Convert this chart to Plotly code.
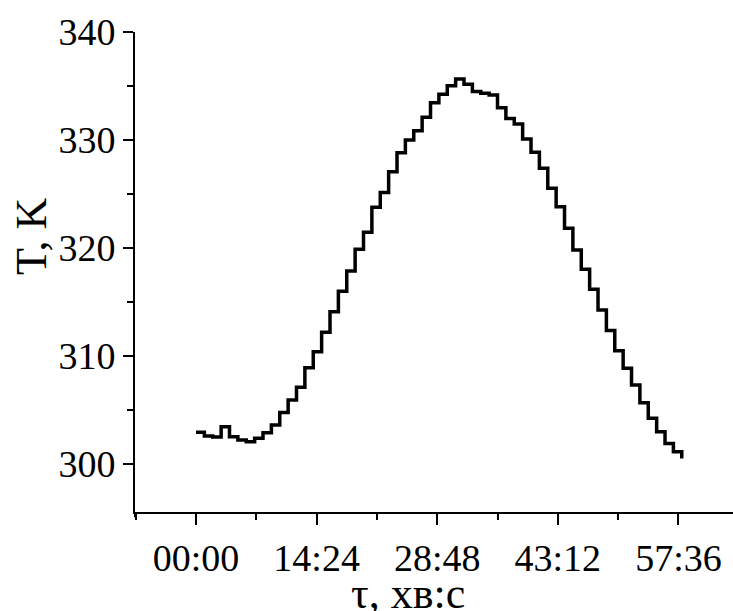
import plotly.graph_objects as go

# time in minutes (data sampled once a minute)
minutes = list(range(0, 59))
temps_K = [302.94, 302.6, 302.5, 303.45, 302.53, 302.22, 302.07, 302.38, 302.9, 303.6,
           304.78, 305.93, 307.1, 308.92, 310.4, 312.19, 314.1, 316.0, 317.87, 319.88,
           321.45, 323.77, 325.13, 327.05, 328.83, 330.0, 330.86, 332.1, 333.46, 334.23,
           335.03, 335.65, 335.16, 334.48, 334.32, 334.17, 332.99, 332.0, 331.48, 330.09,
           328.86, 327.38, 325.53, 323.83, 321.82, 319.81, 318.03, 316.18, 314.26, 312.35,
           310.49, 308.86, 307.31, 305.68, 304.23, 302.99, 301.91, 301.14, 300.68]

x_tick_vals = [0, 864, 1728, 2592, 3456]
x_tick_text = ["00:00", "14:24", "28:48", "43:12", "57:36"]
x_minor_vals = [-432, 432, 1296, 2160, 3024, 3888]
y_tick_vals = [300, 310, 320, 330, 340]
y_minor_vals = [305, 315, 325, 335]

t_sec = [m * 60 for m in minutes] + [minutes[-1] * 60 + 12]
temps_plot = temps_K + [temps_K[-1]]

FONT = "Liberation Serif"

fig = go.Figure()
fig.add_trace(go.Scatter(x=t_sec, y=temps_plot, mode="lines",
                         line=dict(shape="hv", color="black", width=3.5),
                         showlegend=False))

fig.update_layout(
    width=733, height=611,
    margin=dict(l=135, r=0, t=32, b=99),
    paper_bgcolor="white", plot_bgcolor="white",
    font=dict(family=FONT, color="black", size=38),
    xaxis=dict(range=[-437, 3847], showgrid=False, zeroline=False,
               showline=True, linecolor="black", linewidth=2,
               ticks="outside", ticklen=11, tickwidth=2, tickcolor="black",
               tickmode="array", tickvals=x_tick_vals, ticktext=x_tick_text,
               tickfont=dict(family=FONT, size=38, color="black"),
               minor=dict(tickmode="array", tickvals=x_minor_vals, ticks="outside",
                          ticklen=6, tickwidth=2, tickcolor="black")),
    yaxis=dict(range=[295.556, 340], showgrid=False, zeroline=False,
               showline=True, linecolor="black", linewidth=2,
               ticks="outside", ticklen=10, tickwidth=2, tickcolor="black",
               tickmode="array", tickvals=y_tick_vals,
               tickfont=dict(family=FONT, size=38, color="black"),
               minor=dict(tickmode="array", tickvals=y_minor_vals, ticks="outside",
                          ticklen=6, tickwidth=2, tickcolor="black")),
    annotations=[
        dict(text="τ, хв:с", xref="paper", yref="paper", x=(408 - 135) / 598, y=-(593 - 512) / 480,
             xanchor="center", yanchor="middle", showarrow=False,
             font=dict(family=FONT, size=44, color="black")),
        dict(text="T, K", xref="paper", yref="paper", x=-(135 - 31) / 598, y=(512 - 236) / 480,
             xanchor="center", yanchor="middle", textangle=-90, showarrow=False,
             font=dict(family=FONT, size=44, color="black")),
    ],
    shapes=[dict(type="line", xref="paper", yref="paper", x0=0, x1=0, y0=0, y1=-0.011,
                 line=dict(color="black", width=2))],
)

fig.write_html("out.html")
